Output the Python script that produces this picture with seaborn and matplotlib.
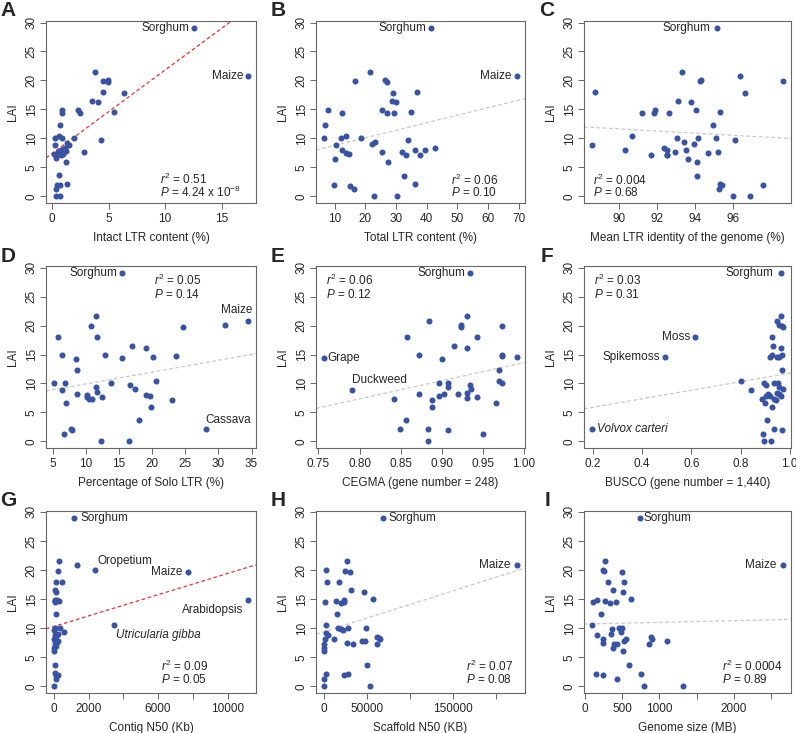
import numpy as np
import matplotlib
matplotlib.use("Agg")
import matplotlib.pyplot as plt
import seaborn as sns

sns.set_style("white")
plt.rcParams["font.family"] = ["Liberation Sans", "DejaVu Sans"]
plt.rcParams["mathtext.fontset"] = "custom"
plt.rcParams["mathtext.rm"] = "Liberation Sans"
plt.rcParams["mathtext.it"] = "Liberation Sans:italic"

# ---- data ----
# A: intact LTR content (%)
a_x = [12.56, 17.35, 3.78, 4.46, 4.91, 4.94, 4.46, 6.37, 3.54, 4.1, 5.5, 0.9, 0.92, 2.29, 2.47,
       0.74, 0.24, 0.6, 0.89, 1.93, 4.35, 0.24, 1.34, 1.49, 0.15, 0.36, 0.5, 2.83, 0.7, 0.8,
       0.9, 1.0, 1.1, 1.2, 0.75, 0.95, 0.36, 1.19, 0.65, 0.45, 0.74, 1.31, 0.36, 0.36, 0.74]
a_y = [29.1, 20.8, 21.5, 19.9, 20.1, 19.7, 18.0, 17.8, 16.5, 16.2, 14.6, 14.9, 14.3, 14.9, 14.4,
       12.3, 10.0, 10.4, 10.0, 10.0, 9.75, 8.8, 9.2, 8.9, 7.3, 7.2, 7.7, 7.7, 7.4, 8.0,
       7.6, 8.2, 8.4, 7.9, 7.1, 7.3, 6.6, 5.9, 3.6, 1.9, 2.0, 2.1, 1.3, 0, 0]

# B: total LTR content (%)
b_x = [41.5, 69.5, 21.4, 16.6, 26.3, 27.1, 28.9, 36.9, 28.6, 30.0, 7.9, 12.2, 25.5, 27.0, 29.4,
       34.7, 6.8, 6.4, 12.0, 13.6, 18.7, 10.4, 22.0, 23.1, 33.8, 12.2, 13.6, 14.7, 25.5, 32.0,
       33.3, 36.3, 37.7, 39.3, 42.6, 10.2, 27.4, 32.7, 9.7, 14.9, 16.3, 36.3, 22.9, 30.3]
b_y = [29.1, 20.8, 21.5, 19.9, 20.1, 19.7, 17.8, 18.0, 16.5, 16.2, 14.9, 14.3, 14.9, 14.4, 14.4,
       14.6, 12.3, 10.0, 10.0, 10.4, 10.0, 8.8, 9.0, 9.4, 9.75, 8.0, 7.5, 7.3, 7.7, 7.7,
       7.2, 8.0, 7.1, 8.0, 8.4, 6.5, 5.9, 3.5, 2.0, 1.8, 1.3, 2.1, 0, 0]

# C: mean LTR identity (%)
c_x = [95.14, 93.33, 96.37, 94.28, 94.33, 98.65, 88.72, 96.63, 93.1, 93.77, 91.19, 91.82, 91.89,
       92.6, 94.02, 95.3, 94.96, 90.65, 93.02, 94.14, 95.1, 88.54, 90.28, 92.37, 92.49, 93.39,
       93.54, 93.93, 96.09, 91.68, 92.49, 92.54, 92.93, 94.68, 95.2, 93.6, 94.09, 94.09, 95.33,
       95.4, 95.28, 97.56, 96.0, 96.88]
c_y = [29.1, 21.5, 20.8, 19.9, 20.1, 19.9, 18.0, 17.8, 16.5, 16.2, 14.3, 14.3, 14.9,
       14.3, 14.9, 14.6, 12.3, 10.4, 10.0, 10.0, 10.0, 8.8, 8.0, 8.4, 8.0, 9.4,
       8.0, 9.0, 9.75, 7.2, 7.2, 7.1, 7.7, 7.5, 7.7, 6.5, 5.9, 3.5, 2.1,
       1.9, 1.3, 2.0, 0, 0]

# D: solo LTR (%)
d_x = [15.41, 34.5, 28.2, 11.48, 31.0, 10.77, 24.64, 5.82, 11.63, 16.94, 19.08, 6.33, 12.9, 8.47,
       15.41, 20.1, 23.67, 8.62, 5.15, 6.79, 13.78, 16.58, 20.56, 6.38, 11.48, 11.68, 17.45,
       8.67, 10.1, 10.15, 10.5, 10.9, 12.45, 19.08, 19.7, 23.06, 7.04, 19.85, 17.96, 6.68,
       7.7, 7.96, 12.3, 16.43]
d_y = [29.15, 20.8, 2.1, 21.6, 20.1, 19.9, 19.7, 18.0, 17.96, 16.5, 16.2, 15.0, 14.9, 14.3,
       14.4, 14.5, 14.7, 12.4, 10.0, 10.0, 10.0, 9.8, 10.4, 8.8, 9.4, 8.5, 9.0,
       8.1, 8.0, 7.6, 7.3, 7.3, 7.7, 8.0, 7.8, 7.2, 6.6, 6.0, 3.6, 1.3,
       2.1, 1.9, 0, 0]

# E: CEGMA
e_x = [0.9349, 0.7564, 0.7911, 0.9313, 0.885, 0.9233, 0.9233, 0.9736, 0.8574, 0.9429, 0.9153,
       0.9313, 0.8726, 0.9736, 0.9736, 0.9, 0.992, 0.97, 0.9696, 0.9736, 0.8966, 0.9077,
       0.9082, 0.9349, 0.9353, 0.9313, 0.8726, 0.9034, 0.9193, 0.8966, 0.9429, 0.8415, 0.8882,
       0.9313, 0.9656, 0.8882, 0.857, 0.849, 0.8838, 0.9077, 0.9505, 0.8838]
e_y = [29.15, 14.4, 8.8, 21.6, 20.8, 20.1, 19.7, 19.9, 18.0, 18.0, 16.5,
       16.2, 15.0, 15.0, 14.7, 14.3, 14.5, 12.4, 10.5, 10.1, 10.0, 10.0,
       9.4, 9.8, 9.1, 8.4, 8.1, 8.1, 8.1, 7.8, 7.7, 7.3, 7.2,
       7.5, 6.6, 6.0, 3.6, 2.1, 2.1, 1.9, 1.3, 0]

# F: BUSCO
f_x = [0.9635, 0.616, 0.492, 0.195, 0.801, 0.843, 0.9635, 0.95, 0.957, 0.970, 0.974, 0.926,
       0.932, 0.966, 0.926, 0.919, 0.947, 0.957, 0.970, 0.97, 0.896, 0.905, 0.938, 0.954,
       0.957, 0.973, 0.889, 0.9, 0.905, 0.91, 0.92, 0.938, 0.943, 0.95, 0.957, 0.965,
       0.927, 0.908, 0.892, 0.936, 0.97, 0.895, 0.922]
f_y = [29.15, 18.0, 14.5, 2.1, 10.5, 8.8, 21.6, 20.8, 20.1, 19.9, 19.7, 18.0,
       16.5, 16.2, 15.0, 14.5, 14.5, 14.6, 14.9, 12.4, 10.0, 9.8, 10.0, 10.0,
       9.4, 9.1, 7.3, 6.7, 7.9, 8.1, 7.8, 7.3, 7.2, 8.3, 8.1, 7.8,
       6.0, 3.6, 1.3, 2.1, 1.9, 0, 0]

# G: contig N50 (Kb)
g_x = [1167, 2393, 7704, 11187, 3463, 1323, 272, 233, 117, 467, 97, 117, 60, 97, 195, 311, 58,
       155, 58, 0, 350, 58, 195, 253, 584, 20, 58, 97, 155, 195, 253, 117, 20, 20, 58,
       58, 155, 253, 155, 0]
g_y = [29.0, 20.0, 19.6, 14.9, 10.5, 20.8, 21.5, 19.8, 17.9, 17.96, 16.5, 16.2, 14.9, 14.6, 14.9,
       14.6, 14.5, 12.4, 10.0, 9.6, 10.0, 8.9, 8.8, 9.0, 9.4, 8.2, 7.8, 7.3, 8.0, 7.6, 7.8,
       7.0, 6.6, 6.0, 3.6, 2.2, 1.8, 2.0, 1.3, 0]

# H: scaffold N50 (KB)
h_x = [68872, 224125, 27237, 2335, 24125, 29960, 4280, 17510, 31520, 47080, 57200, 13620, 23735,
       22960, 20230, 1945, 14786, 3113, 16732, 19844, 21790, 28405, 49030, 2724, 5058, 1945,
       11673, 0, 27237, 34240, 44750, 48250, 61870, 64200, 65370, 61480, 0, 0, 50194, 2335,
       0, 22960, 28016, 0, 53300]
h_y = [29.0, 20.8, 21.5, 20.0, 19.9, 19.6, 17.9, 17.96, 16.5, 16.2, 15.0, 14.6, 14.9,
       14.5, 14.4, 14.5, 12.4, 10.5, 10.0, 9.8, 9.7, 10.0, 10.0, 9.1, 8.8, 8.1,
       8.1, 7.3, 7.5, 7.2, 7.8, 7.8, 8.5, 8.3, 8.1, 7.3, 6.6, 6.0, 3.6, 2.1,
       1.3, 1.9, 2.1, 0, 0]

# I: genome size (MB)
i_x = [734, 2667, 273, 246, 255, 492, 304, 519, 371, 515, 161, 107, 264, 336, 416, 613, 219,
       89, 461, 492, 362, 488, 161, 353, 237, 246, 394, 425, 376, 528, 546, 855, 890, 904,
       1096, 510, 586, 143, 237, 425, 747, 796, 1320]
i_y = [29.0, 20.8, 21.5, 20.0, 19.8, 19.6, 17.9, 17.96, 16.5, 16.2, 14.9, 14.5, 14.6, 14.4, 14.5,
       15.0, 12.4, 10.5, 10.0, 10.1, 9.8, 9.4, 8.9, 9.0, 8.1, 7.5, 7.3, 7.3, 6.6, 7.8,
       8.1, 7.3, 8.5, 8.2, 7.8, 6.0, 3.6, 2.1, 1.9, 1.3, 2.1, 0, 0]

# regression lines: (intercept, slope)
fits = {
    "A": (7.4, 1.44), "B": (7.5, 0.130), "C": (28.1, -0.183),
    "D": (7.89, 0.204), "E": (-17.7, 31.3), "F": (4.4, 7.37),
    "G": (10.28, 0.000913), "H": (9.37, 4.71e-5), "I": (10.71, 0.000286),
}
fit_colors = {"A": "#e8322f", "G": "#e8322f"}

stats = {
    "A": ("0.51", r"4.24 x 10$^{-8}$"), "B": ("0.06", "0.10"), "C": ("0.004", "0.68"),
    "D": ("0.05", "0.14"), "E": ("0.06", "0.12"), "F": ("0.03", "0.31"),
    "G": ("0.09", "0.05"), "H": ("0.07", "0.08"), "I": ("0.0004", "0.89"),
}

xlabels = {
    "A": "Intact LTR content (%)", "B": "Total LTR content (%)",
    "C": "Mean LTR identity of the genome (%)", "D": "Percentage of Solo LTR (%)",
    "E": "CEGMA (gene number = 248)", "F": "BUSCO (gene number = 1,440)",
    "G": "Contig N50 (Kb)", "H": "Scaffold N50 (KB)", "I": "Genome size (MB)",
}

xticks = {
    "A": [0, 5, 10, 15], "B": [10, 20, 30, 40, 50, 60, 70], "C": [90, 92, 94, 96],
    "D": [5, 10, 15, 20, 25, 30, 35], "E": [0.75, 0.80, 0.85, 0.90, 0.95, 1.00],
    "F": [0.2, 0.4, 0.6, 0.8, 1.0], "G": [0, 2000, 4000, 6000, 8000, 10000],
    "H": [0, 50000, 100000, 150000, 200000], "I": [0, 500, 1000, 1500, 2000, 2500],
}
xticklabels = {
    "E": ["0.75", "0.80", "0.85", "0.90", "0.95", "1.00"],
    "F": ["0.2", "0.4", "0.6", "0.8", "1.0"],
    "G": ["0", "2000", "", "6000", "", "10000"],
    "H": ["0", "50000", "", "150000", ""],
    "I": ["0", "500", "1000", "", "2000", ""],
}

# point labels: (index, text, ha, va, dx px, dy px, italic)
labels = {
    "A": [(0, "Sorghum", "right", "center", -5, 0, False), (1, "Maize", "right", "center", -5, 0, False)],
    "B": [(0, "Sorghum", "right", "center", -5, 0, False), (1, "Maize", "right", "center", -6, 0, False)],
    "C": [(0, "Sorghum", "right", "center", -6, 0, False)],
    "D": [(0, "Sorghum", "right", "center", -4, 0, False), (1, "Maize", "right", "bottom", 4, 5, False),
          (2, "Cassava", "left", "bottom", -1, 3, False)],
    "E": [(0, "Sorghum", "right", "center", -5, 0, False), (1, "Grape", "left", "center", 4, 0, False),
          (2, "Duckweed", "left", "bottom", 0, 4, False)],
    "F": [(0, "Sorghum", "right", "center", -7, 0, False), (1, "Moss", "right", "center", -5, 0, False),
          (2, "Spikemoss", "right", "center", -5, 0, False), (3, "Volvox carteri", "left", "center", 5, 0, True)],
    "G": [(0, "Sorghum", "left", "center", 6, 0, False), (1, "Oropetium", "left", "bottom", 2, 3, False),
          (2, "Maize", "right", "center", -5, 0, False), (3, "Arabidopsis", "right", "top", -5, -4, False),
          (4, "Utricularia gibba", "left", "top", 2, -4, True)],
    "H": [(0, "Sorghum", "left", "center", 5, 0, False), (1, "Maize", "right", "center", -7, 0, False)],
    "I": [(0, "Sorghum", "left", "center", 4, 0, False), (1, "Maize", "right", "center", -7, 0, False)],
}

# stats text anchor (axes fraction): left x, y of r2 line, y of P line
stat_pos = {
    "A": (0.542, 0.132, 0.056), "B": (0.647, 0.125, 0.055), "C": (0.044, 0.125, 0.055),
    "D": (0.512, 0.919, 0.844), "E": (0.047, 0.919, 0.844), "F": (0.048, 0.919, 0.844),
    "G": (0.549, 0.146, 0.073), "H": (0.719, 0.146, 0.073), "I": (0.667, 0.146, 0.073),
}

panels = [("A", a_x, a_y), ("B", b_x, b_y), ("C", c_x, c_y),
          ("D", d_x, d_y), ("E", e_x, e_y), ("F", f_x, f_y),
          ("G", g_x, g_y), ("H", h_x, h_y), ("I", i_x, i_y)]

W, H = 796, 733
col_l = [46, 316, 584]
col_w = [210, 209, 207]
row_t = [21, 266, 511]
row_h = 182
letter_x = [8, 278, 547]

dot = "#3953a4"
frame = "#666666"


def r_lims(v):
    # R-style axis range: data range padded by 4% on each side
    lo, hi = min(v), max(v)
    pad = 0.04 * (hi - lo)
    return lo - pad, hi + pad


fig = plt.figure(figsize=(W / 100, H / 100), dpi=100)

for k, (name, xs, ys) in enumerate(panels):
    r, c = divmod(k, 3)
    ax = fig.add_axes([col_l[c] / W, 1 - (row_t[r] + row_h) / H, col_w[c] / W, row_h / H])
    sns.scatterplot(x=xs, y=ys, ax=ax, color=dot, s=19, linewidth=0, zorder=3)
    xlim, ylim = r_lims(xs), r_lims(ys)

    b0, b1 = fits[name]
    ax.axline((0, b0), slope=b1, color=fit_colors.get(name, "#c8c8c8"),
              lw=0.9, ls=(0, (3, 2)), zorder=1)

    ax.set_yticks([0, 5, 10, 15, 20, 25, 30])
    ax.set_xticks(xticks[name])
    if name in xticklabels:
        ax.set_xticklabels(xticklabels[name])
    ax.set_xlim(xlim)
    ax.set_ylim(ylim)
    for lab in ax.get_yticklabels():
        lab.set_rotation(90)
        lab.set_va("center")
    ax.tick_params(axis="both", direction="out", length=4, width=0.7, color=frame,
                   labelsize=8.5, pad=2, bottom=True, left=True)
    ax.tick_params(axis="x", pad=3.5)
    for sp in ax.spines.values():
        sp.set_color(frame)
        sp.set_linewidth(0.8)

    ax.set_xlabel(xlabels[name], fontsize=8.5, labelpad=5)
    ax.set_ylabel("LAI", fontsize=8.5, labelpad=5)

    for idx, txt, ha, va, dx, dy, it in labels[name]:
        ax.annotate(txt, (xs[idx], ys[idx]), xytext=(dx * 0.72, dy * 0.72),
                    textcoords="offset points", ha=ha, va=va, fontsize=8.5,
                    style="italic" if it else "normal")

    sx, sy1, sy2 = stat_pos[name]
    r2, p = stats[name]
    ax.text(sx, sy1, r"$\it{r}^2$ = " + r2, transform=ax.transAxes, fontsize=8.5,
            ha="left", va="center")
    ax.text(sx, sy2, r"$\it{P}$ = " + p, transform=ax.transAxes, fontsize=8.5,
            ha="left", va="center")

    fig.text(letter_x[c] / W, 1 - (row_t[r] - 10) / H, name, fontsize=15,
             fontweight="bold", ha="center", va="center")

fig.savefig("out.png", dpi=100)
